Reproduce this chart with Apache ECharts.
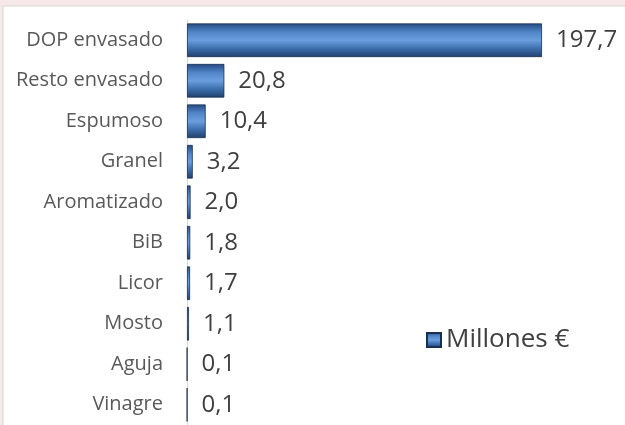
<!DOCTYPE html>
<html>
<head>
<meta charset="utf-8">
<script src="https://cdn.jsdelivr.net/npm/echarts@6/dist/echarts.min.js"></script>
<style>
  html, body { margin: 0; padding: 0; background: #fff; }
  #chart { width: 625px; height: 425px; }
</style>
</head>
<body>
<div id="chart"></div>
<script>
var categories = ['DOP envasado', 'Resto envasado', 'Espumoso', 'Granel', 'Aromatizado', 'BiB', 'Licor', 'Mosto', 'Aguja', 'Vinagre']
var valores = [197.7, 20.8, 10.4, 3.2, 2.0, 1.8, 1.7, 1.1, 0.1, 0.1]
var seriesName = 'Millones €'

var chart = echarts.init(document.getElementById('chart'))

// relieve tipo Excel: bordes oscuros, centro claro
var barColor = new echarts.graphic.LinearGradient(0, 0, 0, 1, [
  { offset: 0, color: '#244a80' },
  { offset: 0.25, color: '#4f84c6' },
  { offset: 0.5, color: '#6a9edf' },
  { offset: 0.75, color: '#3d6dab' },
  { offset: 1, color: '#1f406d' }
])

chart.setOption({
  backgroundColor: '#f7e9e9',
  animation: false,
  graphic: [
    {
      type: 'rect',
      shape: { x: 3, y: 6, width: 640, height: 440 },
      style: { fill: '#ffffff', stroke: '#d6d6d6', lineWidth: 1 },
      z: -10
    }
  ],
  legend: {
    data: [seriesName],
    left: 421,
    top: 322,
    icon: 'rect',
    itemWidth: 14,
    itemHeight: 14,
    itemGap: 6,
    textStyle: {
      fontFamily: 'Open Sans',
      fontSize: 26,
      color: '#404040'
    }
  },
  grid: {
    left: 187,
    right: 0,
    top: 20,
    bottom: -4,
    containLabel: false
  },
  xAxis: {
    type: 'value',
    min: 0,
    max: 197.7 * 438 / 355,
    show: false
  },
  yAxis: {
    type: 'category',
    inverse: true,
    data: categories,
    axisLine: { show: true, lineStyle: { color: '#d9d9d9', width: 1 } },
    axisTick: { show: false },
    axisLabel: {
      margin: 24,
      fontFamily: 'Open Sans',
      fontSize: 20,
      color: '#595959'
    }
  },
  series: [
    {
      name: seriesName,
      type: 'bar',
      data: valores,
      barCategoryGap: '17%',
      itemStyle: {
        color: barColor,
        borderColor: '#182f52',
        borderWidth: 0.8
      },
      label: {
        show: true,
        position: 'right',
        distance: 14,
        fontFamily: 'Open Sans',
        fontSize: 24,
        color: '#404040',
        formatter: function (p) {
          return p.value.toFixed(1).replace('.', ',')
        }
      }
    }
  ]
})
</script>
</body>
</html>
